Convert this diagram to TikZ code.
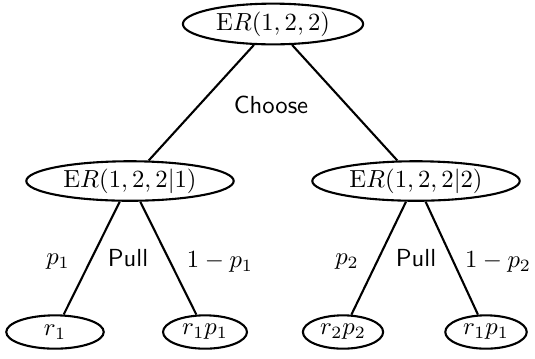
\documentclass[tikz,border=0pt]{standalone}
\usetikzlibrary{shapes.geometric}
\begin{document}
\begin{tikzpicture}[x=0.405pt,y=-0.405pt,
  st/.style={ellipse,draw,line width=0.85pt,inner sep=0pt},
  edge/.style={line width=0.85pt},
  lbl/.style={inner sep=0pt}]
\useasboundingbox (0,0) rectangle (535,358);
\node[st,minimum width=73pt,minimum height=16.5pt] (root) at (273,24) {$\mathrm{E}R(1,2,2)$};
\node[st,minimum width=84pt,minimum height=16pt] (a) at (130,181) {$\mathrm{E}R(1,2,2|1)$};
\node[st,minimum width=84pt,minimum height=16pt] (b) at (416,181) {$\mathrm{E}R(1,2,2|2)$};
\node[st,minimum width=39.5pt,minimum height=13.5pt] (a1) at (55,332) {$r_1$};
\node[st,minimum width=34pt,minimum height=13.5pt] (a2) at (205,332) {$r_1p_1$};
\node[st,minimum width=32.5pt,minimum height=13.5pt] (b1) at (343,332) {$r_2p_2$};
\node[st,minimum width=33pt,minimum height=13.5pt] (b2) at (486,332) {$r_1p_1$};
\draw[edge] (root) -- (a);
\draw[edge] (root) -- (b);
\draw[edge] (a) -- (a1);
\draw[edge] (a) -- (a2);
\draw[edge] (b) -- (b1);
\draw[edge] (b) -- (b2);
\node[lbl] (choose) at (271,105) {\textsf{Choose}};
\node[lbl] (pulla) at (128,258) {\textsf{Pull}};
\node[lbl] (pullb) at (416,258) {\textsf{Pull}};
\node[lbl] (pa) at (58,262) {$p_1$};
\node[lbl] (qa) at (220,262) {$1-p_1$};
\node[lbl] (pb) at (347,262) {$p_2$};
\node[lbl] (qb) at (498,262) {$1-p_2$};
\end{tikzpicture}
\end{document}
